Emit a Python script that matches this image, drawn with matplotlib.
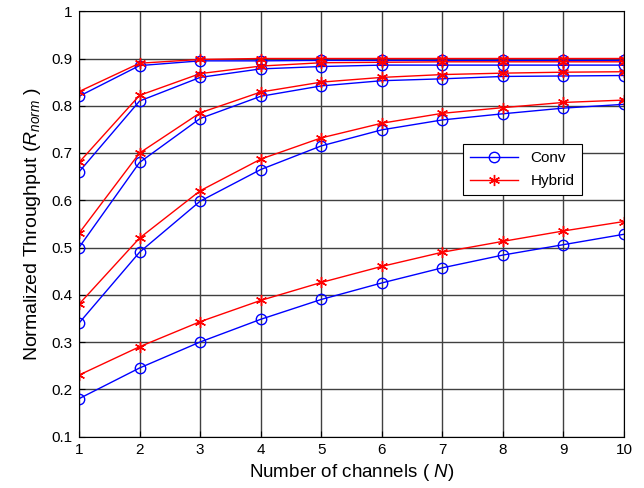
import matplotlib
matplotlib.use("Agg")
import matplotlib.pyplot as plt

plt.rcParams['font.family'] = ['Liberation Sans', 'DejaVu Sans']
plt.rcParams['mathtext.fontset'] = 'custom'
plt.rcParams['mathtext.it'] = 'Liberation Sans:italic'
plt.rcParams['mathtext.rm'] = 'Liberation Sans'

N = [1, 2, 3, 4, 5, 6, 7, 8, 9, 10]

# five Conv curves, top to bottom
conv = [
    [0.82, 0.885, 0.895, 0.895, 0.896, 0.896, 0.896, 0.896, 0.896, 0.896],
    [0.66, 0.81, 0.86, 0.878, 0.883, 0.886, 0.886, 0.886, 0.886, 0.886],
    [0.50, 0.68, 0.773, 0.82, 0.842, 0.853, 0.857, 0.862, 0.863, 0.864],
    [0.34, 0.49, 0.598, 0.665, 0.715, 0.749, 0.770, 0.783, 0.795, 0.803],
    [0.18, 0.245, 0.30, 0.348, 0.39, 0.425, 0.457, 0.484, 0.506, 0.528],
]
# five Hybrid curves, top to bottom
hybrid = [
    [0.83, 0.89, 0.898, 0.90, 0.90, 0.90, 0.90, 0.90, 0.90, 0.90],
    [0.68, 0.822, 0.868, 0.884, 0.891, 0.892, 0.893, 0.893, 0.893, 0.893],
    [0.53, 0.70, 0.785, 0.829, 0.85, 0.86, 0.866, 0.869, 0.871, 0.872],
    [0.38, 0.52, 0.62, 0.687, 0.732, 0.763, 0.784, 0.796, 0.807, 0.812],
    [0.23, 0.29, 0.343, 0.388, 0.426, 0.46, 0.49, 0.513, 0.535, 0.555],
]

fig = plt.figure(figsize=(6.44, 4.88), dpi=100)
ax = fig.add_axes([79/644, 1 - 436.5/488, 545/644, 425.25/488])

for i in range(5):
    ax.plot(N, conv[i], color='blue', lw=1, marker='o', ms=7.5,
            mfc='none', mec='blue', label='Conv' if i == 0 else None)
    ax.plot(N, hybrid[i], color='red', lw=1, marker=(6, 2, 0), ms=8,
            mew=1, mec='red', label='Hybrid' if i == 0 else None)

ax.set_xlim(1, 10)
ax.set_ylim(0.1, 1)
ax.set_xticks(N)
ax.set_yticks([0.1, 0.2, 0.3, 0.4, 0.5, 0.6, 0.7, 0.8, 0.9, 1])
ax.set_yticklabels(['0.1', '0.2', '0.3', '0.4', '0.5', '0.6', '0.7', '0.8', '0.9', '1'])
ax.tick_params(direction='in', labelsize=11, length=4, pad=5)
ax.grid(True, color='#404040', lw=1)
ax.set_axisbelow(True)

ax.set_xlabel('Number of channels ( $N$)', fontsize=13.5, labelpad=3)
ax.set_ylabel('Normalized Throughput ($R_{norm}$ )', fontsize=14, labelpad=6)

leg = ax.legend(loc='upper left', bbox_to_anchor=(0.69, 0.705), fontsize=11,
                fancybox=False, edgecolor='black', framealpha=1,
                handlelength=3.2, borderpad=0.45, labelspacing=0.6)
leg.get_frame().set_linewidth(0.8)

fig.savefig('out.png', dpi=100)
